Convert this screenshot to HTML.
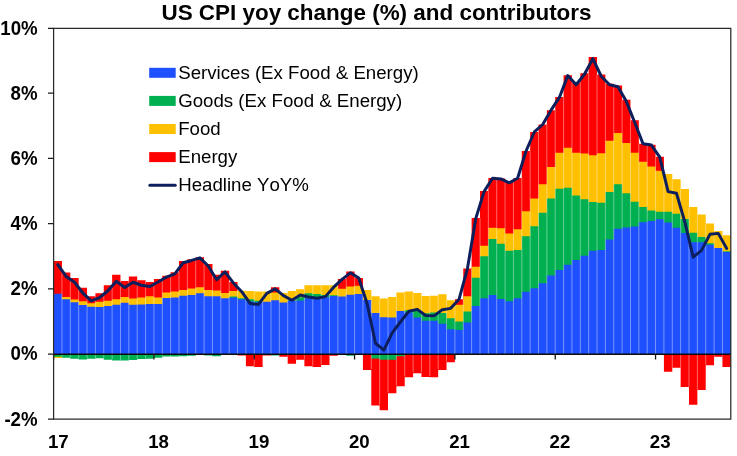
<!DOCTYPE html>
<html><head><meta charset="utf-8"><title>US CPI yoy change (%) and contributors</title>
<style>
html,body{margin:0;padding:0;background:#fff;}
body{width:737px;height:456px;overflow:hidden;font-family:"Liberation Sans",sans-serif;}
svg{display:block;}
text{font-family:"Liberation Sans",sans-serif;fill:#000;font-kerning:none;}
.b{font-weight:bold;font-size:18.67px;}
.l{font-size:18.67px;}
.t{font-weight:bold;font-size:22.45px;}
</style></head><body>
<svg width="737" height="456" viewBox="0 0 737 456">
<defs><filter id="gs" x="0" y="0" width="737" height="456" filterUnits="userSpaceOnUse" color-interpolation-filters="sRGB"><feColorMatrix type="saturate" values="0"/></filter></defs>
<rect width="737" height="456" fill="#fff"/>
<text class="t" filter="url(#gs)" x="376.5" y="19.9" text-anchor="middle">US CPI yoy change (%) and contributors</text>
<g>
<path fill="#FF0000" d="M53.60 354.00H61.96V261.09H53.60ZM61.96 354.00H70.32V272.50H61.96ZM70.32 354.00H78.68V278.04H70.32ZM78.68 354.00H87.04V287.82H78.68ZM87.04 354.00H95.40V296.30H87.04ZM95.40 354.00H103.76V293.36H95.40ZM103.76 354.00H112.12V285.21H103.76ZM112.12 354.00H120.48V274.78H112.12ZM120.48 354.00H128.84V280.98H120.48ZM128.84 354.00H137.20V276.41H128.84ZM137.20 354.00H145.57V280.32H137.20ZM145.57 354.00H153.93V281.95H145.57ZM153.93 354.00H162.29V279.02H153.93ZM162.29 354.00H170.65V275.76H162.29ZM170.65 354.00H179.01V272.17H170.65ZM179.01 354.00H187.37V261.09H179.01ZM187.37 354.00H195.73V259.13H187.37ZM195.73 354.00H204.09V257.18H195.73ZM204.09 354.00H212.45V264.02H204.09ZM212.45 354.00H220.81V274.78H212.45ZM220.81 354.00H229.17V270.87H220.81ZM229.17 354.00H237.53V281.95H229.17ZM237.53 354.00H245.89V355.53H237.53ZM245.89 354.00H254.25V366.29H245.89ZM254.25 354.00H262.61V366.94H254.25ZM262.61 354.00H270.97V355.53H262.61ZM270.97 354.00H279.33V287.17H270.97ZM279.33 354.00H287.69V356.67H279.33ZM287.69 354.00H296.05V363.68H287.69ZM296.05 354.00H304.41V359.77H296.05ZM304.41 354.00H312.78V366.13H304.41ZM312.78 354.00H321.14V366.94H312.78ZM321.14 354.00H329.50V364.99H321.14ZM329.50 354.00H337.86V355.86H329.50ZM337.86 354.00H346.22V279.02H337.86ZM346.22 354.00H354.58V271.52H346.22ZM354.58 354.00H362.94V278.04H354.58ZM362.94 354.00H371.30V369.88H362.94ZM371.30 354.00H379.66V405.41H371.30ZM379.66 354.00H388.02V410.30H379.66ZM388.02 354.00H396.38V393.35H388.02ZM396.38 354.00H404.74V386.34H396.38ZM404.74 354.00H413.10V377.37H404.74ZM413.10 354.00H421.46V373.14H413.10ZM421.46 354.00H429.82V376.89H421.46ZM429.82 354.00H438.18V377.21H429.82ZM438.18 354.00H446.54V369.88H438.18ZM446.54 354.00H454.90V362.22H446.54ZM454.90 354.00H463.26V299.23H454.90ZM463.26 354.00H471.62V268.43H463.26ZM471.62 354.00H479.99V218.06H471.62ZM479.99 354.00H488.35V191.00H479.99ZM488.35 354.00H496.71V177.96H488.35ZM496.71 354.00H505.07V178.61H496.71ZM505.07 354.00H513.43V181.22H505.07ZM513.43 354.00H521.79V177.96H513.43ZM521.79 354.00H530.15V150.90H521.79ZM530.15 354.00H538.51V131.99H530.15ZM538.51 354.00H546.87V124.50H538.51ZM546.87 354.00H555.23V110.15H546.87ZM555.23 354.00H563.59V97.11H555.23ZM563.59 354.00H571.95V75.27H563.59ZM571.95 354.00H580.31V82.77H571.95ZM580.31 354.00H588.67V73.31H580.31ZM588.67 354.00H597.03V57.01H588.67ZM597.03 354.00H605.39V74.62H597.03ZM605.39 354.00H613.75V83.75H605.39ZM613.75 354.00H622.11V85.38H613.75ZM622.11 354.00H630.47V99.72H622.11ZM630.47 354.00H638.83V120.26H630.47ZM638.83 354.00H647.20V143.73H638.83ZM647.20 354.00H655.56V144.71H647.20ZM655.56 354.00H663.92V156.77H655.56ZM663.92 354.00H672.28V371.73H663.92ZM672.28 354.00H680.64V367.82H672.28ZM680.64 354.00H689.00V387.06H680.64ZM689.00 354.00H697.36V404.66H689.00ZM697.36 354.00H705.72V389.99H697.36ZM705.72 354.00H714.08V365.15H705.72ZM714.08 354.00H722.44V356.67H714.08ZM722.44 354.00H730.80V367.11H722.44Z"/>
<path fill="#FFC000" d="M53.60 354.00H61.96V357.98H53.60ZM61.96 354.00H70.32V296.95H61.96ZM70.32 354.00H78.68V299.56H70.32ZM78.68 354.00H87.04V301.19H78.68ZM87.04 354.00H95.40V303.14H87.04ZM95.40 354.00H103.76V301.84H95.40ZM103.76 354.00H112.12V300.86H103.76ZM112.12 354.00H120.48V299.23H112.12ZM120.48 354.00H128.84V296.95H120.48ZM128.84 354.00H137.20V298.58H128.84ZM137.20 354.00H145.57V297.60H137.20ZM145.57 354.00H153.93V296.30H145.57ZM153.93 354.00H162.29V297.60H153.93ZM162.29 354.00H170.65V292.39H162.29ZM170.65 354.00H179.01V291.41H170.65ZM179.01 354.00H187.37V290.10H179.01ZM187.37 354.00H195.73V288.47H187.37ZM195.73 354.00H204.09V287.17H195.73ZM204.09 354.00H212.45V290.10H204.09ZM212.45 354.00H220.81V290.43H212.45ZM220.81 354.00H229.17V293.04H220.81ZM229.17 354.00H237.53V291.08H229.17ZM237.53 354.00H245.89V290.76H237.53ZM245.89 354.00H254.25V291.08H245.89ZM254.25 354.00H262.61V291.41H254.25ZM262.61 354.00H270.97V291.41H262.61ZM270.97 354.00H279.33V292.39H270.97ZM279.33 354.00H287.69V293.04H279.33ZM287.69 354.00H296.05V291.08H287.69ZM296.05 354.00H304.41V289.13H296.05ZM304.41 354.00H312.78V285.21H304.41ZM312.78 354.00H321.14V285.21H312.78ZM321.14 354.00H329.50V285.21H321.14ZM329.50 354.00H337.86V285.21H329.50ZM337.86 354.00H346.22V288.80H337.86ZM346.22 354.00H354.58V286.52H346.22ZM354.58 354.00H362.94V285.87H354.58ZM362.94 354.00H371.30V290.10H362.94ZM371.30 354.00H379.66V296.30H371.30ZM379.66 354.00H388.02V298.58H379.66ZM388.02 354.00H396.38V296.95H388.02ZM396.38 354.00H404.74V292.39H396.38ZM404.74 354.00H413.10V291.41H404.74ZM413.10 354.00H421.46V293.04H413.10ZM421.46 354.00H429.82V295.97H421.46ZM429.82 354.00H438.18V295.65H429.82ZM438.18 354.00H446.54V294.34H438.18ZM446.54 354.00H454.90V300.21H446.54ZM454.90 354.00H463.26V304.77H454.90ZM463.26 354.00H471.62V296.30H463.26ZM471.62 354.00H479.99V266.63H471.62ZM479.99 354.00H488.35V245.77H479.99ZM488.35 354.00H496.71V227.84H488.35ZM496.71 354.00H505.07V228.16H496.71ZM505.07 354.00H513.43V233.38H505.07ZM513.43 354.00H521.79V229.14H513.43ZM521.79 354.00H530.15V211.21H521.79ZM530.15 354.00H538.51V198.50H530.15ZM538.51 354.00H546.87V184.15H538.51ZM546.87 354.00H555.23V166.88H546.87ZM555.23 354.00H563.59V152.86H555.23ZM563.59 354.00H571.95V147.64H563.59ZM571.95 354.00H580.31V152.86H571.95ZM580.31 354.00H588.67V153.51H580.31ZM588.67 354.00H597.03V155.14H588.67ZM597.03 354.00H605.39V153.18H597.03ZM605.39 354.00H613.75V140.80H605.39ZM613.75 354.00H622.11V132.97H613.75ZM622.11 354.00H630.47V143.08H622.11ZM630.47 354.00H638.83V152.86H630.47ZM638.83 354.00H647.20V161.66H638.83ZM647.20 354.00H655.56V166.55H647.20ZM655.56 354.00H663.92V170.79H655.56ZM663.92 354.00H672.28V174.05H663.92ZM672.28 354.00H680.64V179.26H672.28ZM680.64 354.00H689.00V189.04H680.64ZM689.00 354.00H697.36V206.97H689.00ZM697.36 354.00H705.72V214.47H697.36ZM705.72 354.00H714.08V223.60H705.72ZM714.08 354.00H722.44V231.10H714.08ZM722.44 354.00H730.80V235.34H722.44Z"/>
<path fill="#00B050" d="M53.60 354.00H61.96V356.77H53.60ZM61.96 354.00H70.32V357.65H61.96ZM70.32 354.00H78.68V358.63H70.32ZM78.68 354.00H87.04V359.44H78.68ZM87.04 354.00H95.40V358.63H87.04ZM95.40 354.00H103.76V358.30H95.40ZM103.76 354.00H112.12V359.77H103.76ZM112.12 354.00H120.48V360.59H112.12ZM120.48 354.00H128.84V360.59H120.48ZM128.84 354.00H137.20V360.10H128.84ZM137.20 354.00H145.57V358.96H137.20ZM145.57 354.00H153.93V358.63H145.57ZM153.93 354.00H162.29V357.65H153.93ZM162.29 354.00H170.65V356.51H162.29ZM170.65 354.00H179.01V356.51H170.65ZM179.01 354.00H187.37V356.18H179.01ZM187.37 354.00H195.73V355.86H187.37ZM195.73 354.00H204.09V355.04H195.73ZM204.09 354.00H212.45V355.53H204.09ZM212.45 354.00H220.81V356.18H212.45ZM220.81 354.00H229.17V355.04H220.81ZM229.17 354.00H237.53V296.62H229.17ZM237.53 354.00H245.89V298.25H237.53ZM245.89 354.00H254.25V299.23H245.89ZM254.25 354.00H262.61V300.86H254.25ZM270.97 354.00H279.33V355.53H270.97ZM287.69 354.00H296.05V300.21H287.69ZM296.05 354.00H304.41V297.28H296.05ZM304.41 354.00H312.78V293.36H304.41ZM312.78 354.00H321.14V294.02H312.78ZM321.14 354.00H329.50V294.99H321.14ZM329.50 354.00H337.86V295.32H329.50ZM346.22 354.00H354.58V355.86H346.22ZM371.30 354.00H379.66V358.56H371.30ZM379.66 354.00H388.02V359.70H379.66ZM388.02 354.00H396.38V359.87H388.02ZM396.38 354.00H404.74V356.28H396.38ZM404.74 354.00H413.10V310.32H404.74ZM413.10 354.00H421.46V310.97H413.10ZM421.46 354.00H429.82V313.25H421.46ZM429.82 354.00H438.18V312.60H429.82ZM438.18 354.00H446.54V312.92H438.18ZM446.54 354.00H454.90V318.14H446.54ZM454.90 354.00H463.26V321.40H454.90ZM463.26 354.00H471.62V311.62H463.26ZM471.62 354.00H479.99V277.72H471.62ZM479.99 354.00H488.35V256.20H479.99ZM488.35 354.00H496.71V238.92H488.35ZM496.71 354.00H505.07V243.81H496.71ZM505.07 354.00H513.43V250.66H505.07ZM513.43 354.00H521.79V250.01H513.43ZM521.79 354.00H530.15V236.31H521.79ZM530.15 354.00H538.51V226.21H530.15ZM538.51 354.00H546.87V212.84H538.51ZM546.87 354.00H555.23V198.50H546.87ZM555.23 354.00H563.59V188.72H555.23ZM563.59 354.00H571.95V187.74H563.59ZM571.95 354.00H580.31V195.56H571.95ZM580.31 354.00H588.67V199.15H580.31ZM588.67 354.00H597.03V202.08H588.67ZM597.03 354.00H605.39V202.74H597.03ZM605.39 354.00H613.75V191.98H605.39ZM613.75 354.00H622.11V184.15H613.75ZM622.11 354.00H630.47V193.28H622.11ZM630.47 354.00H638.83V201.76H630.47ZM638.83 354.00H647.20V206.97H638.83ZM647.20 354.00H655.56V210.56H647.20ZM655.56 354.00H663.92V211.86H655.56ZM663.92 354.00H672.28V211.86H663.92ZM672.28 354.00H680.64V213.82H672.28ZM680.64 354.00H689.00V219.04H680.64ZM689.00 354.00H697.36V232.73H689.00ZM697.36 354.00H705.72V236.97H697.36ZM705.72 354.00H714.08V243.16H705.72ZM722.44 354.00H730.80V251.31H722.44Z"/>
<path fill="#1F50FF" d="M53.60 354.00H61.96V293.69H53.60ZM61.96 354.00H70.32V299.23H61.96ZM70.32 354.00H78.68V302.17H70.32ZM78.68 354.00H87.04V305.10H78.68ZM87.04 354.00H95.40V306.73H87.04ZM95.40 354.00H103.76V307.06H95.40ZM103.76 354.00H112.12V306.08H103.76ZM112.12 354.00H120.48V304.77H112.12ZM120.48 354.00H128.84V302.82H120.48ZM128.84 354.00H137.20V304.77H128.84ZM137.20 354.00H145.57V304.45H137.20ZM145.57 354.00H153.93V304.12H145.57ZM153.93 354.00H162.29V304.12H153.93ZM162.29 354.00H170.65V297.93H162.29ZM170.65 354.00H179.01V297.60H170.65ZM179.01 354.00H187.37V295.65H179.01ZM187.37 354.00H195.73V294.99H187.37ZM195.73 354.00H204.09V293.36H195.73ZM204.09 354.00H212.45V296.30H204.09ZM212.45 354.00H220.81V296.30H212.45ZM220.81 354.00H229.17V298.25H220.81ZM229.17 354.00H237.53V297.60H229.17ZM237.53 354.00H245.89V299.23H237.53ZM245.89 354.00H254.25V301.51H245.89ZM254.25 354.00H262.61V302.17H254.25ZM262.61 354.00H270.97V301.84H262.61ZM270.97 354.00H279.33V300.21H270.97ZM279.33 354.00H287.69V302.49H279.33ZM287.69 354.00H296.05V300.86H287.69ZM296.05 354.00H304.41V300.54H296.05ZM304.41 354.00H312.78V298.25H304.41ZM312.78 354.00H321.14V298.91H312.78ZM321.14 354.00H329.50V297.28H321.14ZM329.50 354.00H337.86V295.97H329.50ZM337.86 354.00H346.22V296.62H337.86ZM346.22 354.00H354.58V294.67H346.22ZM354.58 354.00H362.94V294.02H354.58ZM362.94 354.00H371.30V299.88H362.94ZM371.30 354.00H379.66V312.92H371.30ZM379.66 354.00H388.02V317.16H379.66ZM388.02 354.00H396.38V317.49H388.02ZM396.38 354.00H404.74V310.97H396.38ZM404.74 354.00H413.10V312.60H404.74ZM413.10 354.00H421.46V317.49H413.10ZM421.46 354.00H429.82V320.75H421.46ZM429.82 354.00H438.18V320.75H429.82ZM438.18 354.00H446.54V323.68H438.18ZM446.54 354.00H454.90V329.22H446.54ZM454.90 354.00H463.26V330.04H454.90ZM463.26 354.00H471.62V322.57H463.26ZM471.62 354.00H479.99V306.08H471.62ZM479.99 354.00H488.35V298.25H479.99ZM488.35 354.00H496.71V294.99H488.35ZM496.71 354.00H505.07V298.91H496.71ZM505.07 354.00H513.43V301.19H505.07ZM513.43 354.00H521.79V298.25H513.43ZM521.79 354.00H530.15V291.73H521.79ZM530.15 354.00H538.51V288.15H530.15ZM538.51 354.00H546.87V283.26H538.51ZM546.87 354.00H555.23V275.43H546.87ZM555.23 354.00H563.59V269.89H555.23ZM563.59 354.00H571.95V264.68H563.59ZM571.95 354.00H580.31V260.11H571.95ZM580.31 354.00H588.67V255.87H580.31ZM588.67 354.00H597.03V250.66H588.67ZM597.03 354.00H605.39V250.01H597.03ZM605.39 354.00H613.75V239.57H605.39ZM613.75 354.00H622.11V228.82H613.75ZM622.11 354.00H630.47V227.51H622.11ZM630.47 354.00H638.83V226.53H630.47ZM638.83 354.00H647.20V222.30H638.83ZM647.20 354.00H655.56V220.99H647.20ZM655.56 354.00H663.92V219.36H655.56ZM663.92 354.00H672.28V222.62H663.92ZM672.28 354.00H680.64V227.84H672.28ZM680.64 354.00H689.00V233.05H680.64ZM689.00 354.00H697.36V242.18H689.00ZM697.36 354.00H705.72V242.18H697.36ZM705.72 354.00H714.08V244.79H705.72ZM714.08 354.00H722.44V248.05H714.08ZM722.44 354.00H730.80V251.96H722.44Z"/>
</g>
<path d="M61.96 272.50V357.26M70.32 278.04V357.26M78.68 287.82V358.24M87.04 296.30V358.24M95.40 296.30V357.91M103.76 293.36V357.91M112.12 285.21V359.38M120.48 280.98V360.19M128.84 280.98V359.70M137.20 280.32V358.56M145.57 281.95V358.24M153.93 281.95V357.26M162.29 279.02V356.12M170.65 275.76V356.12M179.01 272.17V355.79M187.37 261.09V355.47M195.73 259.13V354.65M204.09 264.02V354.65M212.45 274.78V355.14M220.81 274.78V354.65M229.17 281.95V354.00M237.53 290.76V354.00M245.89 291.08V355.14M254.25 291.41V365.90M262.61 291.41V355.14M270.97 291.41V355.14M279.33 293.04V355.14M287.69 293.04V356.28M296.05 291.08V359.38M304.41 289.13V359.38M312.78 285.21V365.74M321.14 285.21V364.60M329.50 285.21V355.47M337.86 285.21V354.00M346.22 279.02V354.00M354.58 278.04V354.00M362.94 290.10V354.00M371.30 296.30V369.00M379.66 298.58V404.53M388.02 298.58V392.47M396.38 296.95V385.46M404.74 292.39V376.49M413.10 293.04V372.26M421.46 295.97V372.26M429.82 295.97V376.00M438.18 295.65V369.00M446.54 300.21V361.82M454.90 300.21V354.00M463.26 299.23V354.00M471.62 268.43V354.00M479.99 218.06V354.00M488.35 191.00V354.00M496.71 178.61V354.00M505.07 181.22V354.00M513.43 181.22V354.00M521.79 177.96V354.00M530.15 150.90V354.00M538.51 131.99V354.00M546.87 124.50V354.00M555.23 110.15V354.00M563.59 97.11V354.00M571.95 82.77V354.00M580.31 82.77V354.00M588.67 73.31V354.00M597.03 74.62V354.00M605.39 83.75V354.00M613.75 85.38V354.00M622.11 99.72V354.00M630.47 120.26V354.00M638.83 143.73V354.00M647.20 144.71V354.00M655.56 156.77V354.00M663.92 174.05V354.00M672.28 179.26V367.69M680.64 189.04V367.69M689.00 206.97V386.93M697.36 214.47V389.86M705.72 223.60V364.76M714.08 231.10V356.28M722.44 235.34V356.28" stroke="#fff" stroke-opacity="0.4" stroke-width="1" fill="none"/>
<path d="M53.6 354.3H731" stroke="#0c0c0c" stroke-width="1.4" fill="none"/>
<path d="M53.60 354.00V359.50M153.93 354.00V359.50M254.25 354.00V359.50M354.58 354.00V359.50M454.90 354.00V359.50M555.23 354.00V359.50M655.56 354.00V359.50" stroke="#151515" stroke-width="1.3" fill="none"/>
<path d="M53.6 28.3V419.1H730.8V28.3Z" stroke="#2b2b2b" stroke-width="1.25" fill="none"/>
<path d="M48 419.10H53.6M48 354.00H53.6M48 288.80H53.6M48 223.60H53.6M48 158.40H53.6M48 93.20H53.6M48 28.30H53.6" stroke="#1c1c1c" stroke-width="1.25" fill="none"/>
<polyline points="57.78,264.68 66.14,276.41 74.50,282.28 82.86,293.04 91.22,300.86 99.58,297.60 107.94,290.76 116.30,281.30 124.66,287.50 133.02,282.28 141.39,285.21 149.75,286.52 158.11,281.95 166.47,277.06 174.83,273.80 183.19,262.72 191.55,260.44 199.91,257.83 208.27,265.98 216.63,279.67 224.99,271.85 233.35,282.93 241.71,291.73 250.07,303.47 258.43,304.45 266.79,293.36 275.15,288.80 283.51,295.65 291.87,300.21 300.23,294.99 308.60,296.95 316.96,298.25 325.32,296.62 333.68,287.17 342.04,279.35 350.40,272.83 358.76,278.04 367.12,303.80 375.48,343.24 383.84,350.09 392.20,332.81 400.56,321.73 408.92,311.29 417.28,309.34 425.64,315.53 434.00,315.86 442.36,309.66 450.72,308.36 459.08,299.23 467.44,268.59 475.80,218.38 484.17,191.33 492.53,178.29 500.89,178.94 509.25,182.85 517.61,178.29 525.97,151.23 534.33,131.99 542.69,124.50 551.05,110.15 559.41,97.44 567.77,75.60 576.13,84.72 584.49,74.29 592.85,58.64 601.21,76.25 609.57,84.72 617.93,86.68 626.29,101.35 634.65,122.21 643.01,143.73 651.38,145.03 659.74,157.10 668.10,191.65 676.46,193.28 684.82,221.97 693.18,257.18 701.54,250.33 709.90,234.36 718.26,233.38 726.62,248.38" fill="none" stroke="#0C1F5C" stroke-width="3" stroke-linejoin="round" stroke-linecap="round"/>
<g class="b" filter="url(#gs)"><text transform="translate(37.6 425.50) scale(1 1.08)" text-anchor="end">-2%</text><text transform="translate(37.6 360.40) scale(1 1.08)" text-anchor="end">0%</text><text transform="translate(37.6 295.20) scale(1 1.08)" text-anchor="end">2%</text><text transform="translate(37.6 230.00) scale(1 1.08)" text-anchor="end">4%</text><text transform="translate(37.6 164.80) scale(1 1.08)" text-anchor="end">6%</text><text transform="translate(37.6 99.60) scale(1 1.08)" text-anchor="end">8%</text><text transform="translate(37.6 34.70) scale(1 1.08)" text-anchor="end">10%</text><text x="58.28" y="447.6" text-anchor="middle">17</text><text x="158.61" y="447.6" text-anchor="middle">18</text><text x="258.93" y="447.6" text-anchor="middle">19</text><text x="359.26" y="447.6" text-anchor="middle">20</text><text x="459.58" y="447.6" text-anchor="middle">21</text><text x="559.91" y="447.6" text-anchor="middle">22</text><text x="660.24" y="447.6" text-anchor="middle">23</text></g>
<rect x="149.2" y="67.80" width="26.5" height="10" fill="#1F50FF"/><rect x="149.2" y="95.90" width="26.5" height="10" fill="#00B050"/><rect x="149.2" y="124.00" width="26.5" height="10" fill="#FFC000"/><rect x="149.2" y="152.10" width="26.5" height="10" fill="#FF0000"/><line x1="149.9" x2="175.2" y1="185.20" y2="185.20" stroke="#0C1F5C" stroke-width="3" stroke-linecap="round"/>
<g class="l" filter="url(#gs)"><text x="178.2" y="78.80">Services (Ex Food &amp; Energy)</text><text x="178.2" y="106.90">Goods (Ex Food &amp; Energy)</text><text x="178.2" y="135.00">Food</text><text x="178.2" y="163.10">Energy</text><text x="178.2" y="191.20">Headline YoY%</text></g>
</svg>
</body></html>
